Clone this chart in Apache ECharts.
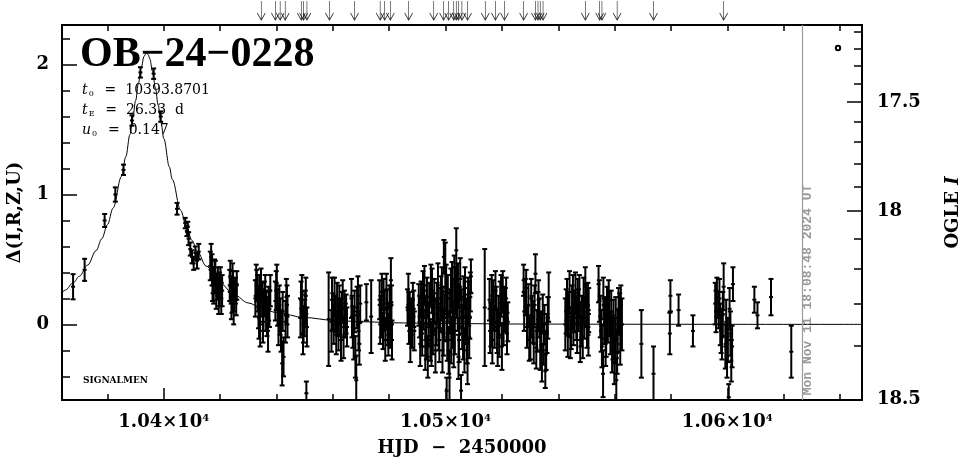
<!DOCTYPE html>
<html><head><meta charset="utf-8">
<script src="https://cdn.jsdelivr.net/npm/echarts@6/dist/echarts.min.js"></script>
<style>html,body{margin:0;padding:0;background:#fff}#c{width:965px;height:459px}</style>
</head><body><div id="c"></div>
<script>
// ---- observations: HJD-2450000, Delta(I,R,Z,U), error ----
const hjd = [
10367.8,10371.9,10379.0,10382.8,10385.7,10388.7,10391.7,10396.4,10398.9,
10404.7,10407.6,10408.2,10408.8,10409.4,10410.0,10410.6,10411.2,10411.8,10412.4,10408.5,
10416.8,10417.1,10417.5,10417.7,10418.3,10418.9,10419.5,10420.1,10420.7,
10423.6,10423.9,10424.2,10424.6,10424.8,10425.4,10425.7,
10432.8,10433.3,10433.6,10434.0,10434.2,10434.9,10435.4,10436.0,10436.6,10437.2,10437.8,
10439.9,10440.4,10440.7,10441.3,10442.0,10442.5,10443.5,10443.9,
10448.7,10449.2,10449.6,10450.2,10450.8,10450.6,10458.5,
10459.7,10460.3,10460.9,10461.5,10462.0,10462.6,10463.2,10463.8,10464.4,10465.0,10460.0,10462.3,10464.1,
10466.8,10467.4,10468.0,10468.3,10468.6,10469.1,10469.7,10471.9,10473.6,
10476.6,10477.1,10477.8,10478.3,10479.0,10479.4,10480.1,10480.6,10481.0,10477.4,10479.7,
10486.5,10487.0,10487.5,10487.8,10488.4,10488.9,
10490.8,10491.3,10491.7,10492.2,10492.8,10493.4,10494.0,10494.6,10495.2,10495.8,10496.4,10497.0,10497.5,10498.1,10498.7,10499.3,10499.9,10500.5,10501.1,10501.4,10501.9,10502.6,10503.1,10503.8,10504.3,10504.8,
10499.4,10500.4,10502.3,10503.5,10505.0,10505.5,10505.9,10506.4,10507.0,10507.6,10507.8,10508.2,10509.0,
10491.0,10492.5,10493.7,10495.5,10497.3,10499.0,10500.8,10502.9,10504.4,10506.7,10508.6,
10513.9,
10515.6,10516.1,10516.6,10517.1,10517.7,10518.3,10518.8,10519.4,10520.0,10520.6,10521.2,10521.8,10516.4,10518.5,10520.3,10522.1,
10527.7,10528.3,10528.9,10530.1,10530.7,10531.3,10531.9,10532.5,10533.0,10533.6,10534.2,10534.8,10535.4,10536.0,10536.6,10529.4,10533.3,10535.1,
10542.5,10543.1,10543.7,10544.3,10544.9,10545.4,10546.1,10546.7,10547.2,10547.8,10548.4,10549.0,10549.6,10550.2,10550.8,10543.4,10545.2,10546.9,10548.7,10550.5,
10554.3,10554.9,10555.5,10555.9,10556.3,10556.8,10557.3,10557.9,10558.5,10559.1,10559.6,10560.2,10560.6,10561.1,10561.8,10562.6,10556.0,10558.1,10559.9,10562.2,
10569.5,10573.8,10579.8,10579.6,10582.7,10587.8,
10595.7,10596.3,10596.9,10597.5,10598.1,10598.7,10599.3,10599.9,10600.5,10601.1,10601.7,10602.0,
10609.6,10610.7,10615.5,10622.7,
10416.5,10417.3,10418.0,10418.6,10419.2,10419.8,10420.4,
10423.4,10424.0,10424.4,10425.0,10425.9,
10432.5,10433.0,10433.8,10434.5,10435.2,10435.7,10436.3,10437.0,10437.5,
10439.6,10440.1,10441.0,10441.6,10442.2,10443.2,10443.7,
10448.5,10449.0,10449.4,10450.0,10450.4,
10459.5,10460.6,10461.2,10461.8,10462.9,10463.5,10464.7,
10466.6,10467.1,10467.7,10468.9,10469.4,
10476.8,10478.0,10478.6,10479.2,10480.3,10480.8,
10486.8,10487.3,10488.1,10488.7,
10490.5,10491.5,10492.0,10493.0,10493.2,10494.2,10494.8,10495.0,10496.0,10496.7,10497.8,10498.4,10498.9,10499.6,10500.2,10500.6,10501.6,10502.0,10502.5,10503.3,10504.0,10504.6,10505.2,10505.7,10506.2,10506.9,10507.4,10508.0,10508.4,10508.8,
10515.8,10516.9,10517.4,10518.0,10519.1,10519.7,10520.8,10521.5,
10527.9,10528.6,10529.7,10530.4,10531.0,10531.6,10532.2,10532.8,10533.9,10534.5,10535.7,10536.3,
10542.8,10544.0,10544.6,10545.7,10546.4,10547.5,10548.1,10549.3,10549.9,10550.7,
10554.6,10555.2,10556.6,10557.0,10557.6,10558.8,10559.4,10560.4,10560.9,10561.4,10562.0,
10596.0,10597.2,10597.8,10598.4,10599.6,10600.2,10600.8,10601.4
];
const delta = [
0.29,0.42,0.80,1.00,1.19,1.57,1.94,1.93,1.60,
0.89,0.78,0.72,0.66,0.58,0.52,0.47,0.55,0.49,0.56,0.75,
0.52,0.42,0.34,0.26,0.37,0.29,0.21,0.34,0.26,
0.37,0.26,0.21,0.31,0.13,0.26,0.19,
0.34,0.24,0.13,0.26,0.00,0.19,0.11,0.26,0.06,0.16,0.26,
0.26,0.13,0.00,0.06,-0.30,-0.25,0.21,0.06,
0.19,0.08,0.00,0.13,-0.02,-0.53,0.04,
0.19,0.00,0.08,0.19,-0.05,0.06,0.13,-0.10,0.03,-0.02,0.10,0.15,0.12,
0.06,-0.10,-0.25,-0.43,0.13,-0.05,0.16,0.17,0.06,
0.19,0.06,-0.05,0.11,0.26,0.00,0.16,0.34,-0.12,0.25,-0.08,
0.13,0.00,-0.12,0.06,0.19,-0.05,
0.06,0.19,-0.07,0.11,-0.17,0.21,0.00,-0.12,0.26,0.08,-0.20,0.16,-0.02,0.11,0.26,-0.07,0.44,0.06,-0.20,-0.41,0.26,0.00,0.34,0.57,0.13,-0.12,
0.52,-0.51,0.31,0.26,0.13,-0.51,-0.02,0.21,0.06,-0.12,-0.30,0.16,0.37,
-0.15,0.30,-0.25,-0.05,0.30,0.12,0.20,-0.15,0.30,-0.20,0.05,
0.13,
0.19,0.00,-0.12,0.11,0.26,-0.05,0.06,0.16,-0.17,0.00,0.11,-0.07,0.22,-0.15,0.25,0.02,
0.34,0.21,-0.02,-0.10,0.06,-0.15,0.39,-0.05,0.19,-0.20,-0.30,-0.15,-0.36,-0.07,0.21,0.15,0.05,0.00,
0.00,0.19,0.08,-0.10,0.13,0.00,0.24,-0.05,0.11,-0.12,0.06,0.19,0.29,-0.02,0.11,-0.08,0.22,0.18,-0.10,0.15,
0.31,0.06,-0.17,-0.38,0.00,-0.15,0.13,0.19,-0.07,-0.20,0.03,-0.12,-0.43,-0.05,0.08,0.00,0.20,0.08,-0.30,0.15,
-0.15,-0.38,0.22,-0.07,0.11,-0.05,
0.16,0.21,0.11,0.00,-0.10,0.29,-0.17,-0.25,-0.56,-0.07,-0.17,0.31,
0.19,0.07,0.21,-0.21,
0.45,0.30,0.40,0.24,0.33,0.27,0.20,
0.30,0.17,0.35,0.22,0.30,
0.20,0.30,0.05,0.30,0.02,0.20,0.10,-0.05,0.12,
0.18,0.32,0.15,-0.05,0.10,0.02,0.15,
0.05,0.25,-0.08,0.05,0.22,
-0.05,0.22,-0.08,0.05,-0.12,0.20,0.08,
0.20,-0.02,0.10,0.22,-0.15,
0.00,0.20,-0.12,0.12,-0.02,0.15,
0.25,0.10,-0.02,0.12,
0.15,0.00,0.25,0.05,-0.10,0.15,0.30,-0.15,0.18,0.02,-0.12,0.20,-0.20,0.05,0.28,-0.10,0.10,-0.12,0.18,-0.05,0.22,-0.25,0.35,0.10,-0.10,0.28,0.02,0.20,-0.10,0.25,
-0.05,0.18,-0.02,0.12,-0.08,0.22,0.12,0.20,
0.10,0.28,-0.12,0.20,0.02,0.15,-0.18,0.10,-0.05,0.08,-0.20,0.05,
0.10,0.25,-0.03,0.10,0.05,0.22,0.00,0.05,0.15,-0.08,
0.18,-0.05,0.05,-0.08,0.02,0.10,-0.10,0.05,-0.22,0.12,-0.15,
0.10,0.20,-0.05,0.08,0.02,-0.12,0.12,-0.28
];
const err = [
0.097,0.085,0.05,0.055,0.04,0.04,0.04,0.04,0.04,
0.045,0.04,0.04,0.05,0.05,0.05,0.05,0.05,0.06,0.06,0.04,
0.10,0.12,0.10,0.10,0.12,0.10,0.13,0.10,0.12,
0.12,0.10,0.12,0.10,0.13,0.10,0.12,
0.12,0.14,0.16,0.12,0.17,0.13,0.16,0.12,0.15,0.13,0.12,
0.15,0.14,0.16,0.14,0.17,0.15,0.14,0.16,
0.14,0.15,0.14,0.13,0.15,0.09,0.36,
0.17,0.15,0.14,0.13,0.15,0.14,0.12,0.16,0.13,0.15,0.14,0.15,0.14,
0.16,0.17,0.16,0.19,0.16,0.15,0.14,0.14,0.28,
0.15,0.16,0.14,0.15,0.13,0.16,0.14,0.17,0.15,0.14,0.16,
0.14,0.15,0.17,0.14,0.13,0.15,
0.16,0.14,0.17,0.15,0.18,0.15,0.17,0.16,0.17,0.16,0.17,0.16,0.18,0.17,0.18,0.17,0.19,0.18,0.18,0.20,0.17,0.18,0.19,0.17,0.18,0.17,
0.13,0.10,0.17,0.18,0.16,0.12,0.17,0.16,0.17,0.18,0.16,0.17,0.13,
0.17,0.15,0.16,0.18,0.17,0.17,0.18,0.18,0.17,0.17,0.16,
0.45,
0.16,0.17,0.18,0.16,0.15,0.17,0.16,0.17,0.18,0.16,0.17,0.16,0.16,0.17,0.16,0.15,
0.12,0.14,0.16,0.17,0.16,0.15,0.15,0.16,0.15,0.15,0.14,0.16,0.13,0.15,0.19,0.16,0.15,0.15,
0.20,0.16,0.17,0.16,0.17,0.16,0.16,0.17,0.16,0.17,0.16,0.17,0.15,0.16,0.17,0.17,0.16,0.17,0.16,0.17,
0.14,0.16,0.16,0.18,0.15,0.17,0.16,0.15,0.16,0.17,0.16,0.17,0.17,0.16,0.16,0.20,0.16,0.17,0.16,0.15,
0.26,0.21,0.12,0.16,0.12,0.12,
0.16,0.15,0.14,0.16,0.17,0.18,0.17,0.16,0.10,0.17,0.16,0.13,
0.10,0.10,0.14,0.20,
0.11,0.12,0.10,0.12,0.11,0.13,0.12,
0.12,0.13,0.12,0.12,0.11,
0.14,0.12,0.16,0.13,0.16,0.13,0.15,0.16,0.14,
0.15,0.14,0.15,0.16,0.15,0.16,0.15,
0.15,0.13,0.15,0.14,0.14,
0.16,0.14,0.15,0.14,0.16,0.14,0.15,
0.15,0.16,0.16,0.15,0.16,
0.15,0.15,0.16,0.15,0.16,0.15,
0.14,0.15,0.16,0.14,
0.16,0.17,0.16,0.17,0.17,0.17,0.16,0.17,0.17,0.18,0.17,0.17,0.17,0.18,0.18,0.18,0.17,0.18,0.17,0.18,0.17,0.17,0.16,0.17,0.17,0.16,0.17,0.16,0.16,0.15,
0.17,0.16,0.16,0.17,0.17,0.16,0.17,0.16,
0.15,0.14,0.16,0.15,0.16,0.15,0.16,0.15,0.15,0.15,0.15,0.16,
0.17,0.16,0.16,0.16,0.17,0.16,0.17,0.16,0.16,0.16,
0.16,0.16,0.16,0.17,0.16,0.16,0.17,0.16,0.16,0.16,0.16,
0.16,0.15,0.17,0.17,0.17,0.17,0.16,0.16
];
// ---- model curve (t0 = 10393.8701, tE = 26.33 d, u0 = 0.147), values as listed ----
const modelT = [10363.87,10365,10368,10370,10373,10376,10378,10380,10382,10385,10386.5,10388,10389,10390,10391,10392,10393,10393.87,10394.5,10395,10396,10397,10398,10399,10400,10402,10403,10406,10408,10410,10412,10415,10420,10425,10430,10435,10440,10450,10460,10470,10485,10500,10530,10570,10620,10647.8];
const modelD = [0.2448,0.2638,0.3229,0.3706,0.4577,0.5687,0.6596,0.7674,0.8961,1.1397,1.2898,1.4620,1.5889,1.7229,1.8574,1.9786,2.0642,2.0905,2.0749,2.0468,1.9495,1.8229,1.6876,1.5551,1.4305,1.2111,1.1157,0.8780,0.7523,0.6468,0.5579,0.4493,0.3172,0.2273,0.1652,0.1215,0.0910,0.0528,0.0322,0.0205,0.0112,0.0065,0.0026,0.0011,0.0004,0.0002];
// ---- arrows along the top ----
const arrowT = [10434.6,10439.6,10441.3,10443.1,10448.8,10449.6,10450.8,10458.8,10467.7,10476.8,10478.4,10480.4,10486.9,10495.8,10499.3,10501.1,10502.9,10503.8,10504.6,10505.8,10507.8,10514.1,10517.7,10520.9,10527.7,10531.9,10532.8,10533.6,10534.6,10549.6,10554.7,10555.5,10560.9,10573.8,10598.7];
// ---- ticks ----
const xMajor = [10400,10500,10600];
const xMinor = [10380,10420,10440,10460,10480,10520,10540,10560,10580,10620,10640];
const yMajor = [0,1,2];
const yMinor = [-0.4,-0.2,0.2,0.4,0.6,0.8,1.2,1.4,1.6,1.8,2.2];
const iMajor = [17.5,18,18.5];
const iMinor = [17.1,17.2,17.3,17.4,17.6,17.7,17.8,17.9,18.1,18.2,18.3,18.4];
const stampText = 'Mon Nov 11 18:08:48 2024 UT';
const stampT = 10626.5;

const xMin = 10363.87, xMax = 10647.8, yMin = -0.582, yMax = 2.305;
const FS = 0.2245, FB = 0.499;
function magToDelta(m){ return 2.5*Math.log10((Math.pow(10,-0.4*(m-18))-FB)/FS); }
const iMajorD = iMajor.map(magToDelta), iMinorD = iMinor.map(magToDelta);

const serif = 'DejaVu Serif';
const lblStyle = {fontFamily: serif, fontWeight: 'bold', fontSize: 18, color: '#000'};
const G = {left: 62, right: 103, top: 25, bottom: 59};

const obs = hjd.map((t,i)=>[t, delta[i], err[i]]);
const model = modelT.map((t,i)=>[t, modelD[i]]);
const arrows = arrowT.map(t=>[t, 0.5]);

const chart = echarts.init(document.getElementById('c'), null, {renderer: 'canvas'});
const BL = {stroke: '#000', lineWidth: 2};
const noLine = {show: false, onZero: false};
chart.setOption({
  animation: false,
  backgroundColor: '#fff',
  grid: [
    Object.assign({show: true, borderColor: '#000', borderWidth: 2, backgroundColor: 'transparent', containLabel: false, outerBoundsMode: 'none'}, G),
    {left: G.left, right: G.right, top: 0, height: 21, containLabel: false, outerBoundsMode: 'none'}
  ],
  xAxis: [
    {type: 'value', gridIndex: 0, position: 'bottom', min: xMin, max: xMax,
     axisLine: noLine, splitLine: {show: false},
     axisTick: {show: true, inside: true, length: 12, customValues: xMajor, lineStyle: {color: '#000', width: 1.5}},
     axisLabel: {show: true, customValues: xMajor, margin: 13,
       formatter: v => '{n|' + (v/1e4).toFixed(2) + '×10}{s|4}',
       rich: {n: Object.assign({}, lblStyle), s: {fontFamily: serif, fontWeight: 'bold', fontSize: 10, color: '#000', verticalAlign: 'top', padding: [0,0,8,0]}}},
     name: 'HJD  −  2450000', nameLocation: 'middle', nameGap: 39,
     nameTextStyle: Object.assign({}, lblStyle)},
    {type: 'value', gridIndex: 0, position: 'bottom', min: xMin, max: xMax,
     axisLine: noLine, splitLine: {show: false}, axisLabel: {show: false},
     axisTick: {show: true, inside: true, length: 6, customValues: xMinor, lineStyle: {color: '#000', width: 1.5}}},
    {type: 'value', gridIndex: 0, position: 'top', min: xMin, max: xMax,
     axisLine: noLine, splitLine: {show: false}, axisLabel: {show: false},
     axisTick: {show: true, inside: true, length: 6, customValues: xMajor.concat(xMinor), lineStyle: {color: '#000', width: 1.5}}},
    {type: 'value', gridIndex: 1, min: xMin, max: xMax, show: false}
  ],
  yAxis: [
    {type: 'value', gridIndex: 0, position: 'left', min: yMin, max: yMax,
     axisLine: noLine, splitLine: {show: false},
     axisTick: {show: true, inside: true, length: 15, customValues: yMajor, lineStyle: {color: '#000', width: 1.5}},
     axisLabel: Object.assign({show: true, customValues: yMajor, margin: 13, formatter: v => String(Math.round(v))}, lblStyle),
     name: 'Δ(I,R,Z,U)', nameLocation: 'middle', nameGap: 38, nameRotate: 90,
     nameTextStyle: Object.assign({}, lblStyle)},
    {type: 'value', gridIndex: 0, position: 'left', min: yMin, max: yMax,
     axisLine: noLine, splitLine: {show: false}, axisLabel: {show: false},
     axisTick: {show: true, inside: true, length: 8, customValues: yMinor, lineStyle: {color: '#000', width: 1.5}}},
    {type: 'value', gridIndex: 0, position: 'right', min: yMin, max: yMax,
     axisLine: noLine, splitLine: {show: false},
     axisTick: {show: true, inside: true, length: 15, customValues: iMajorD, lineStyle: {color: '#000', width: 1.5}},
     axisLabel: Object.assign({show: true, customValues: iMajorD, margin: 15,
       formatter: v => { let b = 0; iMajorD.forEach((d,i)=>{ if (Math.abs(d-v) < Math.abs(iMajorD[b]-v)) b = i; }); return String(iMajor[b]); }}, lblStyle),
     name: '{a|OGLE }{b|I}', nameLocation: 'middle', nameGap: 82, nameRotate: 90,
     nameTextStyle: {rich: {a: Object.assign({}, lblStyle), b: Object.assign({}, lblStyle, {fontStyle: 'italic'})}}},
    {type: 'value', gridIndex: 0, position: 'right', min: yMin, max: yMax,
     axisLine: noLine, splitLine: {show: false}, axisLabel: {show: false},
     axisTick: {show: true, inside: true, length: 8, customValues: iMinorD, lineStyle: {color: '#000', width: 1.5}}},
    {type: 'value', gridIndex: 1, min: 0, max: 1, show: false}
  ],
  series: [
    {type: 'line', xAxisIndex: 0, yAxisIndex: 0, data: model, showSymbol: false, smooth: 0.35, smoothMonotone: 'x',
     lineStyle: {color: '#000', width: 1}, clip: true, z: 3,
     markLine: {silent: true, symbol: 'none', label: {show: false},
       lineStyle: {color: '#9a9a9a', width: 1.2, type: 'solid'}, data: [{xAxis: stampT}]}},
    {type: 'custom', xAxisIndex: 0, yAxisIndex: 0, data: obs, clip: true, z: 4,
     encode: {x: 0, y: 1},
     renderItem: (params, api) => {
       const t = api.value(0), d = api.value(1), e = api.value(2);
       const c = api.coord([t, d]), hi = api.coord([t, d + e]), lo = api.coord([t, d - e]);
       const x = c[0];
       return {type: 'group', children: [
         {type: 'line', shape: {x1: x, y1: hi[1], x2: x, y2: lo[1]}, style: BL},
         {type: 'line', shape: {x1: x - 2.5, y1: hi[1], x2: x + 2.5, y2: hi[1]}, style: BL},
         {type: 'line', shape: {x1: x - 2.5, y1: lo[1], x2: x + 2.5, y2: lo[1]}, style: BL},
         {type: 'line', shape: {x1: x - 2, y1: c[1], x2: x + 2, y2: c[1]}, style: BL}
       ]};
     }},
    {type: 'scatter', xAxisIndex: 3, yAxisIndex: 4, data: arrows,
     symbol: 'path://M4,0L4,19M0,12L4,19L8,12', symbolSize: [8, 19],
     itemStyle: {color: 'transparent', borderColor: '#000', borderWidth: 1}}
  ],
  graphic: [
    {type: 'text', left: 80, top: 34, style: {text: 'OB−24−0228', font: 'bold 42px "Liberation Serif"', fill: '#000'}},
    {type: 'text', left: 82, top: 80, style: {
      text: '{i|t}{s|0}  =  10393.8701\n{i|t}{s|E}  =  26.33  d\n{i|u}{s|0}  =  0.147',
      rich: {i: {fontFamily: serif, fontStyle: 'italic', fontSize: 14, lineHeight: 20},
             s: {fontFamily: serif, fontSize: 8, lineHeight: 20, padding: [8,2,0,1]}},
      fontFamily: serif, fontSize: 14, lineHeight: 20, fill: '#000'}},
    {type: 'text', left: 83, top: 376, style: {text: 'SIGNALMEN', font: 'bold 9px "DejaVu Serif"', fill: '#000'}},
    {type: 'text', x: 808, y: 290, rotation: Math.PI/2, style: {text: stampText, font: 'bold 13px "Liberation Mono"', fill: '#9a9a9a', align: 'center', verticalAlign: 'middle'}},
    {type: 'circle', shape: {cx: 838, cy: 48, r: 2.2}, style: {fill: '#fff', stroke: '#000', lineWidth: 2}}
  ]
});
</script></body></html>
